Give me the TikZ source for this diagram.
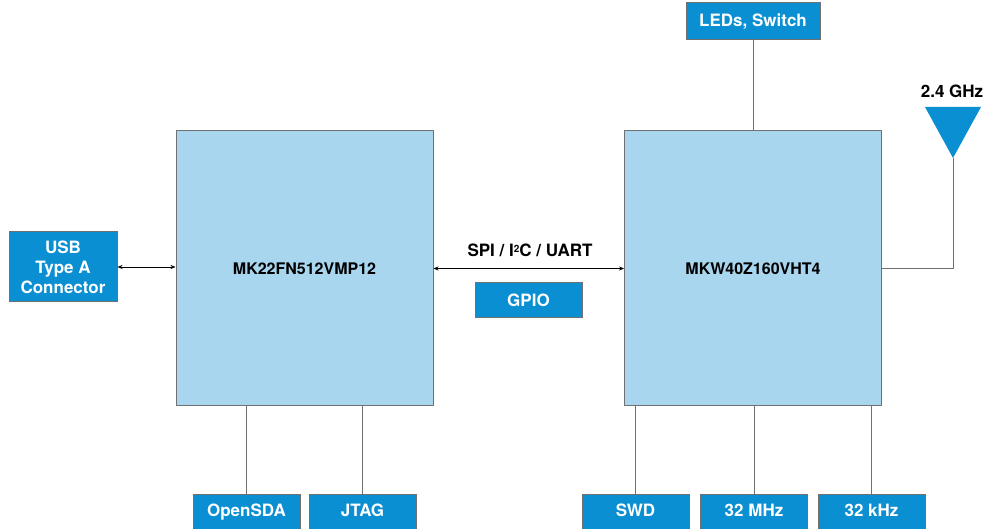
\documentclass[tikz,border=0pt]{standalone}
\usepackage{fontspec}
\setmainfont{TeX Gyre Heros}
\usetikzlibrary{arrows.meta}
\definecolor{darkb}{HTML}{0A8FD2}
\definecolor{lightb}{HTML}{A8D6EF}
\definecolor{edge}{HTML}{707070}
\tikzset{
  bigbox/.style={draw=edge,line width=1pt,fill=lightb,minimum width=257pt,minimum height=275pt,inner sep=0pt,font=\bfseries\fontsize{16}{18}\selectfont},
  smallbox/.style={draw=edge,line width=1pt,fill=darkb,text=white,minimum width=107pt,minimum height=36pt,inner sep=0pt,align=center,font=\bfseries\fontsize{17}{20}\selectfont},
  lbl/.style={inner sep=0pt,font=\bfseries\fontsize{17}{20}\selectfont},
  wire/.style={draw=edge,line width=1pt},
  arr/.style={draw=black,line width=0.6pt,{Stealth[length=5pt,width=4pt]}-{Stealth[length=5pt,width=4pt]}}
}
\begin{document}
\begin{tikzpicture}[x=1pt,y=-1pt]
\useasboundingbox (0,0) rectangle (986,529);
\begin{scope}
\clip (0,0) rectangle (986,529);
\node[bigbox] (mk22) at (304.5,268.5) {MK22FN512VMP12};
\node[bigbox] (mkw) at (753,268.5) {MKW40Z160VHT4};
\node[smallbox,minimum width=108pt,minimum height=70pt] (usb) at (63,267) {USB\\Type A\\Connector};
\node[smallbox,minimum height=35pt] (gpio) at (528.5,300.5) {GPIO};
\node[smallbox,minimum width=134pt,minimum height=37pt] (leds) at (753,21.5) {LEDs, Switch};
\node[smallbox,minimum height=38pt,text depth=5pt] (osda) at (246.5,513) {OpenSDA};
\node[smallbox,minimum height=38pt,text depth=5pt] (jtag) at (362.5,513) {JTAG};
\node[smallbox,minimum height=38pt,text depth=5pt] (swd) at (635.5,513) {SWD};
\node[smallbox,minimum height=38pt,text depth=5pt] (mhz) at (754,513) {32 MHz};
\node[smallbox,minimum height=38pt,text depth=5pt] (khz) at (871.5,513) {32 kHz};
\node[lbl] (spi) at (530,250) {SPI / I\raisebox{0.45ex}{\fontsize{10}{10}\selectfont 2}C / UART};
\node[lbl] (ghz) at (952,91) {2.4 GHz};
\coordinate (antL) at (925,107);
\coordinate (antR) at (981,107);
\coordinate (ant) at (953,158);
\fill[darkb] (antL) -- (antR) -- (ant) -- cycle;
\draw[arr] (usb.east) -- (usb.east -| mk22.west);
\draw[arr] (mk22.east) -- (mkw.west);
\draw[wire] (leds.south) -- (leds.south |- mkw.north);
\draw[wire] (ant) -- (ant |- mkw.east) -- (mkw.east);
\draw[wire] (osda.north) -- (osda.north |- mk22.south);
\draw[wire] (jtag.north) -- (jtag.north |- mk22.south);
\draw[wire] (swd.north) -- (swd.north |- mkw.south);
\draw[wire] (mhz.north) -- (mhz.north |- mkw.south);
\draw[wire] (khz.north) -- (khz.north |- mkw.south);
\end{scope}
\end{tikzpicture}
\end{document}
